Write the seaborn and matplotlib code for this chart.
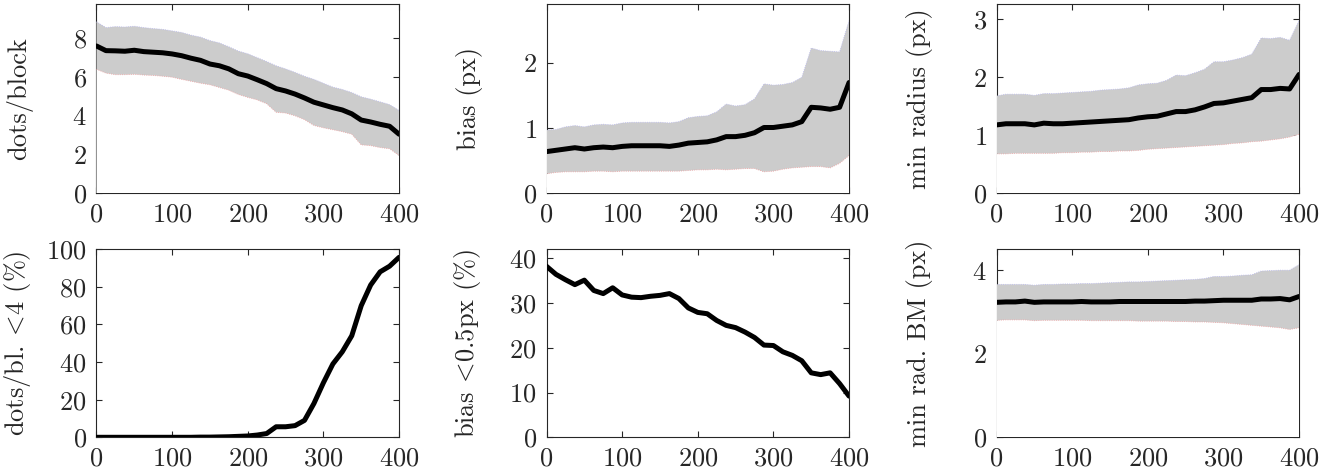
import numpy as np
import pandas as pd
import matplotlib
matplotlib.use("Agg")
import matplotlib.pyplot as plt
import seaborn as sns

# x axis (same for every panel)
xs = [0, 12.5, 25, 37.5, 50, 62.5, 75, 87.5, 100, 112.5, 125, 137.5, 150, 162.5, 175, 187.5,
      200, 212.5, 225, 237.5, 250, 262.5, 275, 287.5, 300, 312.5, 325, 337.5, 350, 362.5,
      375, 387.5, 400]

# dots/block
dots_mean = [7.60, 7.36, 7.35, 7.33, 7.38, 7.31, 7.28, 7.25, 7.19, 7.10, 6.97, 6.86, 6.67, 6.58, 6.42, 6.17,
             6.05, 5.86, 5.66, 5.40, 5.28, 5.12, 4.92, 4.70, 4.56, 4.42, 4.30, 4.10, 3.78, 3.68, 3.56, 3.46, 3.05]
dots_upper = [8.85, 8.55, 8.60, 8.58, 8.62, 8.55, 8.50, 8.46, 8.38, 8.30, 8.16, 8.06, 7.88, 7.76, 7.56, 7.34,
              7.20, 7.00, 6.80, 6.58, 6.42, 6.24, 6.04, 5.88, 5.68, 5.48, 5.36, 5.20, 4.98, 4.86, 4.72, 4.58, 4.28]
dots_lower = [6.40, 6.20, 6.12, 6.12, 6.14, 6.10, 6.08, 6.04, 5.99, 5.88, 5.78, 5.68, 5.60, 5.46, 5.32, 5.10,
              4.95, 4.82, 4.62, 4.18, 4.14, 4.00, 3.80, 3.50, 3.38, 3.28, 3.18, 3.05, 2.50, 2.46, 2.36, 2.30, 1.95]

# bias (px)
bias_mean = [0.64, 0.66, 0.68, 0.70, 0.68, 0.70, 0.71, 0.70, 0.72, 0.73, 0.73, 0.73, 0.73, 0.72, 0.74, 0.77,
             0.78, 0.79, 0.82, 0.87, 0.87, 0.89, 0.93, 1.01, 1.01, 1.03, 1.05, 1.10, 1.32, 1.31, 1.29, 1.32, 1.70]
bias_upper = [0.97, 0.98, 1.02, 1.04, 1.02, 1.05, 1.06, 1.05, 1.08, 1.09, 1.09, 1.09, 1.09, 1.08, 1.10, 1.16,
              1.18, 1.19, 1.25, 1.37, 1.34, 1.36, 1.45, 1.68, 1.66, 1.67, 1.70, 1.78, 2.23, 2.19, 2.18, 2.17, 2.65]
bias_lower = [0.30, 0.32, 0.33, 0.33, 0.33, 0.34, 0.34, 0.33, 0.34, 0.34, 0.34, 0.34, 0.34, 0.34, 0.34, 0.35,
              0.36, 0.36, 0.37, 0.36, 0.37, 0.38, 0.38, 0.33, 0.34, 0.37, 0.39, 0.40, 0.41, 0.41, 0.39, 0.46, 0.58]

# min radius (px)
rad_mean = [1.18, 1.20, 1.20, 1.20, 1.18, 1.21, 1.20, 1.20, 1.21, 1.22, 1.23, 1.24, 1.25, 1.26, 1.27, 1.30,
            1.32, 1.33, 1.37, 1.41, 1.41, 1.44, 1.49, 1.55, 1.56, 1.59, 1.62, 1.65, 1.79, 1.79, 1.81, 1.80, 2.05]
rad_upper = [1.68, 1.71, 1.71, 1.71, 1.69, 1.72, 1.72, 1.73, 1.74, 1.75, 1.76, 1.78, 1.79, 1.80, 1.82, 1.87,
             1.89, 1.90, 1.95, 2.04, 2.03, 2.08, 2.14, 2.27, 2.27, 2.30, 2.34, 2.40, 2.68, 2.67, 2.69, 2.64, 2.98]
rad_lower = [0.68, 0.68, 0.69, 0.69, 0.69, 0.69, 0.69, 0.70, 0.70, 0.71, 0.71, 0.72, 0.72, 0.73, 0.73, 0.74,
             0.76, 0.77, 0.78, 0.79, 0.80, 0.81, 0.82, 0.83, 0.84, 0.86, 0.87, 0.89, 0.90, 0.92, 0.94, 0.97, 1.02]

# dots/bl. <4 (%)
dots_low_pct = [0, 0, 0, 0, 0, 0, 0, 0, 0, 0, 0, 0.1, 0.1, 0.2, 0.3, 0.5,
                0.7, 1.2, 2.0, 5.6, 5.6, 6.2, 9.0, 18.0, 29.0, 39.0, 45.5, 54.0, 70.0, 81.0, 88.0, 91.0, 95.7]

# bias <0.5px (%)
bias_small_pct = [38.2, 36.4, 35.2, 34.1, 35.1, 32.8, 32.1, 33.4, 31.8, 31.3, 31.2, 31.5, 31.7, 32.1, 31.0, 28.9,
                  27.9, 27.6, 26.1, 25.0, 24.5, 23.5, 22.3, 20.6, 20.5, 19.1, 18.3, 17.1, 14.4, 14.0, 14.4, 12.0, 9.2]

# min rad. BM (px)
bm_mean = [3.23, 3.24, 3.24, 3.26, 3.23, 3.24, 3.24, 3.24, 3.24, 3.25, 3.24, 3.24, 3.24, 3.25, 3.25, 3.25,
           3.25, 3.25, 3.25, 3.25, 3.25, 3.26, 3.26, 3.27, 3.28, 3.28, 3.28, 3.28, 3.31, 3.31, 3.32, 3.29, 3.37]
bm_upper = [3.66, 3.66, 3.66, 3.66, 3.64, 3.66, 3.66, 3.67, 3.67, 3.68, 3.68, 3.69, 3.70, 3.71, 3.72, 3.72,
            3.73, 3.74, 3.75, 3.76, 3.77, 3.78, 3.80, 3.85, 3.85, 3.86, 3.88, 3.89, 3.98, 3.99, 4.00, 4.00, 4.13]
bm_lower = [2.80, 2.81, 2.81, 2.81, 2.79, 2.80, 2.80, 2.80, 2.80, 2.80, 2.79, 2.79, 2.79, 2.79, 2.79, 2.78,
            2.78, 2.78, 2.78, 2.77, 2.77, 2.76, 2.76, 2.75, 2.74, 2.72, 2.70, 2.68, 2.66, 2.64, 2.62, 2.58, 2.62]

sns.set_style("ticks")
plt.rcParams["font.family"] = "serif"
plt.rcParams["font.serif"] = ["cmr10"]
plt.rcParams["mathtext.fontset"] = "cm"
plt.rcParams["axes.formatter.use_mathtext"] = True
plt.rcParams["font.size"] = 19

fig = plt.figure(figsize=(13.31, 4.69), dpi=100)

lefts = [0.0725, 0.4106, 0.7487]
width = 0.2273
rows = [(0.5878, 0.403), (0.0676, 0.4009)]


def make_ax(row, col):
    b, h = rows[row]
    ax = fig.add_axes([lefts[col], b, width, h])
    ax.set_axisbelow(True)
    for sp in ax.spines.values():
        sp.set_linewidth(0.8)
        sp.set_zorder(0.5)
    ax.tick_params(direction="in", top=True, right=True, length=4, width=0.8,
                   pad=7, labelsize=19)
    ax.set_xlim(0, 400)
    ax.set_xticks([0, 100, 200, 300, 400])
    return ax


def draw_panel(ax, mean, ylabel, ymax, yticks, upper=None, lower=None):
    df = pd.DataFrame({"x": xs, "y": mean})
    if upper is not None:
        # white area below the band hides the axis, like the pgfplots stack
        ax.fill_between(xs, 0, lower, facecolor="white", edgecolor="none", zorder=1)
        ax.fill_between(xs, lower, upper, facecolor="#cccccc", edgecolor="none", zorder=1.5)
        ax.plot(xs, upper, color="#b8b8ee", lw=0.6, ls=":", zorder=1.6)
        ax.plot(xs, lower, color="#f0a0a0", lw=0.6, ls=":", zorder=1.6)
        ax.axhline(0, color="#f0a0a0", lw=0.6, ls=":", zorder=1.6)
    sns.lineplot(data=df, x="x", y="y", ax=ax, color="black", linewidth=3.6, zorder=3)
    ax.set_ylim(0, ymax)
    ax.set_yticks(yticks)
    ax.set_xlabel("")
    ax.set_ylabel(ylabel, fontsize=19)
    ax.yaxis.set_label_coords(-0.21, 0.5)


ax1 = make_ax(0, 0)
draw_panel(ax1, dots_mean, "dots/block", 9.75, [0, 2, 4, 6, 8], dots_upper, dots_lower)

ax2 = make_ax(0, 1)
draw_panel(ax2, bias_mean, "bias (px)", 2.9, [0, 1, 2], bias_upper, bias_lower)

ax3 = make_ax(0, 2)
draw_panel(ax3, rad_mean, "min radius (px)", 3.26, [0, 1, 2, 3], rad_upper, rad_lower)

ax4 = make_ax(1, 0)
draw_panel(ax4, dots_low_pct, r"dots/bl. $\!<\!$4 (%)", 100, [0, 20, 40, 60, 80, 100])

ax5 = make_ax(1, 1)
draw_panel(ax5, bias_small_pct, r"bias $\!<\!$0.5px (%)", 42, [0, 10, 20, 30, 40])

ax6 = make_ax(1, 2)
draw_panel(ax6, bm_mean, "min rad. BM (px)", 4.5, [0, 2, 4], bm_upper, bm_lower)

fig.savefig("out.png", dpi=100)
